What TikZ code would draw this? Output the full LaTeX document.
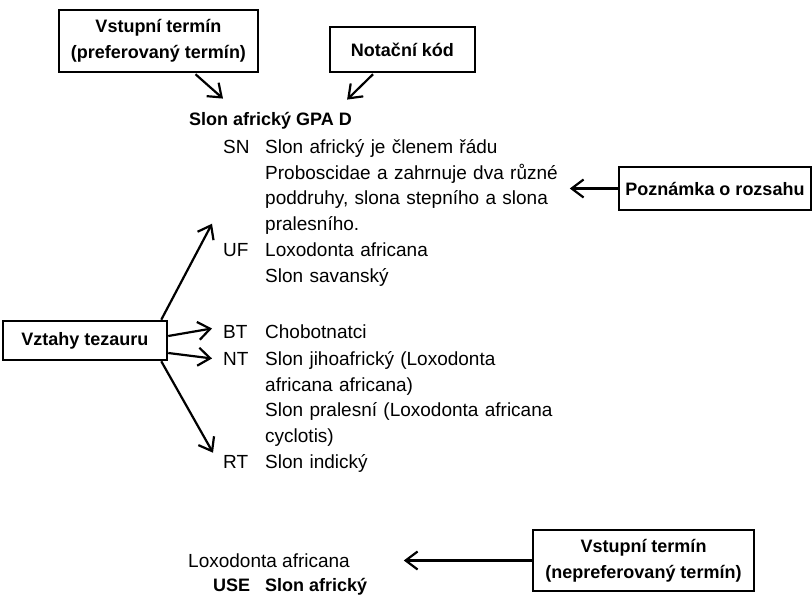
\documentclass[tikz,border=0pt]{standalone}
\usepackage{fontspec}
\setmainfont{Liberation Sans}
\usetikzlibrary{arrows.meta, positioning, calc}

\newcommand{\bodysize}{\fontsize{19}{25.5}\selectfont}
\newcommand{\notesize}{\fontsize{18}{26}\selectfont\bfseries}
\newcommand{\termsize}{\fontsize{18}{22}\selectfont\bfseries}

\begin{document}
\begin{tikzpicture}[x=1pt, y=-1pt,
    note/.style={draw, line width=2.5pt, inner sep=0pt, align=center, font=\notesize},
    tag/.style={anchor=base west, inner sep=0pt, font=\bodysize},
    entry/.style={anchor=base west, inner sep=0pt, text width=330pt, align=left, font=\bodysize},
    term/.style={anchor=base west, inner sep=0pt, font=\termsize},
    ptr/.style={-{Straight Barb[length=12pt, width=18pt]}, line width=2.2pt}]

\useasboundingbox (0,0) rectangle (812,596);

% Callouts above the headword
\node[note, minimum width=199pt, minimum height=62pt] (vstup) at (158.5,41) {Vstupní termín\\(preferovaný termín)};
\node[note, minimum width=145pt, minimum height=45pt] (notace) at (402.5,49.5) {Notační kód};

% Headword with notation
\node[term] (head) at (189,126) {Slon africký GPA D};

% Scope note
\node[tag] (sn) at (223,154) {SN};
\node[entry] (sntext) at (265,154) {Slon africký je členem řádu\\Proboscidae a zahrnuje dva různé\\poddruhy, slona stepního a slona\\pralesního.};

% Relations
\node[tag] (uf) at (223,257) {UF};
\node[entry] (uftext) at (265,257) {Loxodonta africana\\Slon savanský};
\node[tag] (bt) at (223,339) {BT};
\node[entry] (bttext) at (265,339) {Chobotnatci};
\node[tag] (nt) at (223,366) {NT};
\node[entry] (nttext) at (265,366) {Slon jihoafrický (Loxodonta\\africana africana)\\Slon pralesní (Loxodonta africana\\cyclotis)};
\node[tag] (rt) at (223,468) {RT};
\node[entry] (rttext) at (265,468) {Slon indický};

% Side callouts
\node[note, minimum width=192pt, minimum height=43pt] (rozsah) at (715,188.5) {Poznámka o rozsahu};
\node[note, minimum width=164pt, minimum height=39pt] (vztahy) at (85,340.5) {Vztahy tezauru};

% Non-preferred entry
\node[tag] (lox) at (188,567) {Loxodonta africana};
\node[term] (use) at (213,591) {USE};
\node[term] (usetext) at (265,591) {Slon africký};
\node[note, minimum width=221pt, minimum height=61pt] (nepref) at (643.5,560.5) {Vstupní termín\\(nepreferovaný termín)};

% Pointers to the headword
\draw[ptr] ([shift={(37,1)}]vstup.south) -- ([shift={(34,-14)}]head.north west);
\draw[ptr] ([shift={(-29.5,1)}]notace.south) -- ([shift={(-5,-13)}]head.north east);

% Pointer to the scope note
\draw[ptr] (rozsah.west) -- ++(-48,0);

% Relation pointers
\draw[ptr] ([xshift=-7pt]vztahy.north east) -- ([shift={(-11,-20)}]uf.north west);
\draw[ptr] ([shift={(0,-4.5)}]vztahy.east) -- ([shift={(-11,-4)}]bt.west);
\draw[ptr] ([shift={(0,12.5)}]vztahy.east) -- ([shift={(-11,-1)}]nt.west);
\draw[ptr] ([xshift=-7pt]vztahy.south east) -- ([shift={(-10,-2)}]rt.north west);

% Pointer to the non-preferred term
\draw[ptr] (nepref.west) -- ++(-128,0);
\end{tikzpicture}
\end{document}
